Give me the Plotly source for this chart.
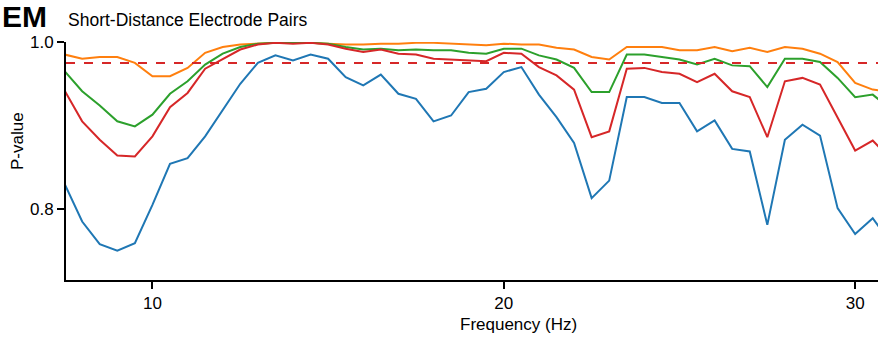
import plotly.graph_objects as go

freq = [7.5 + 0.5 * i for i in range(48)]  # 7.5 .. 31.0 Hz

blue = [0.830, 0.785, 0.758, 0.750, 0.759, 0.805, 0.854, 0.861, 0.887, 0.919,
        0.950, 0.975, 0.984, 0.978, 0.985, 0.980, 0.958, 0.948, 0.961, 0.938,
        0.932, 0.905, 0.912, 0.940, 0.944, 0.964, 0.970, 0.937, 0.910, 0.879,
        0.813, 0.834, 0.934, 0.934, 0.927, 0.927, 0.893, 0.906, 0.872, 0.869,
        0.781, 0.883, 0.901, 0.888, 0.801, 0.770, 0.789, 0.760]
red = [0.942, 0.905, 0.883, 0.864, 0.863, 0.887, 0.922, 0.939, 0.968, 0.979,
       0.991, 0.997, 0.999, 0.998, 0.999, 0.997, 0.992, 0.988, 0.991, 0.986,
       0.985, 0.980, 0.979, 0.978, 0.977, 0.987, 0.986, 0.970, 0.960, 0.943,
       0.886, 0.893, 0.968, 0.969, 0.964, 0.962, 0.952, 0.962, 0.941, 0.934,
       0.886, 0.953, 0.957, 0.949, 0.909, 0.870, 0.882, 0.860]
green = [0.965, 0.941, 0.924, 0.905, 0.899, 0.913, 0.938, 0.953, 0.973, 0.986,
         0.994, 0.998, 0.999, 0.999, 0.999, 0.998, 0.994, 0.991, 0.992, 0.990,
         0.991, 0.990, 0.990, 0.987, 0.986, 0.992, 0.992, 0.984, 0.979, 0.969,
         0.940, 0.940, 0.985, 0.985, 0.982, 0.979, 0.973, 0.980, 0.972, 0.971,
         0.946, 0.980, 0.980, 0.976, 0.957, 0.934, 0.937, 0.920]
orange = [0.985, 0.980, 0.982, 0.982, 0.975, 0.959, 0.959, 0.969, 0.987, 0.994,
          0.997, 0.998, 0.999, 0.999, 0.999, 0.998, 0.997, 0.997, 0.998, 0.998,
          0.999, 0.999, 0.998, 0.997, 0.996, 0.998, 0.997, 0.997, 0.993, 0.991,
          0.982, 0.979, 0.994, 0.994, 0.994, 0.990, 0.990, 0.994, 0.989, 0.993,
          0.988, 0.994, 0.992, 0.986, 0.976, 0.951, 0.943, 0.940]
threshold = 0.975

x_ticks = [10, 20, 30]
y_ticks = [0.8, 1.0]
y_ticktext = ["0.8", "1.0"]

FONT = "Arial, Liberation Sans, sans-serif"

fig = go.Figure()
series = [(orange, "#ff7f0e"), (green, "#2ca02c"), (red, "#d62728"), (blue, "#1f77b4")]
for vals, col in series:
    fig.add_trace(go.Scatter(x=freq, y=vals, mode="lines",
                             line=dict(color=col, width=2), showlegend=False,
                             hoverinfo="skip"))

fig.add_hline(y=threshold, line=dict(color="#d62728", width=2, dash="dash"))

fig.update_layout(
    width=878, height=338,
    margin=dict(l=66, r=0, t=42, b=58),
    paper_bgcolor="white", plot_bgcolor="white",
    font=dict(family=FONT, size=17, color="black"),
    xaxis=dict(range=[7.54, 30.65], tickvals=x_ticks, showline=True,
               linecolor="black", linewidth=2, ticks="outside", ticklen=7,
               tickwidth=2, tickcolor="black", showgrid=False, zeroline=False),
    yaxis=dict(range=[0.715, 1.0], tickvals=y_ticks, ticktext=y_ticktext,
               showline=True, linecolor="black", linewidth=2,
               ticks="outside", ticklen=7, tickwidth=2, tickcolor="black",
               showgrid=False, zeroline=False),
    annotations=[
        dict(text="<b>EM</b>", xref="paper", yref="paper",
             x=-0.0812, y=1.107, xanchor="left", yanchor="middle",
             showarrow=False, font=dict(size=30, family=FONT)),
        dict(text="Short-Distance Electrode Pairs", xref="paper", yref="paper",
             x=0.0, y=1.092, xanchor="left", yanchor="middle",
             showarrow=False, font=dict(size=17.5, family=FONT)),
        dict(text="Frequency (Hz)", xref="paper", yref="paper",
             x=0.5567, y=-0.189, xanchor="center", yanchor="middle",
             showarrow=False, font=dict(size=17, family=FONT)),
        dict(text="P-value", xref="paper", yref="paper", textangle=-90,
             x=-0.0603, y=0.584, xanchor="center", yanchor="middle",
             showarrow=False, font=dict(size=17, family=FONT)),
    ],
)

fig.write_html("out.html")
